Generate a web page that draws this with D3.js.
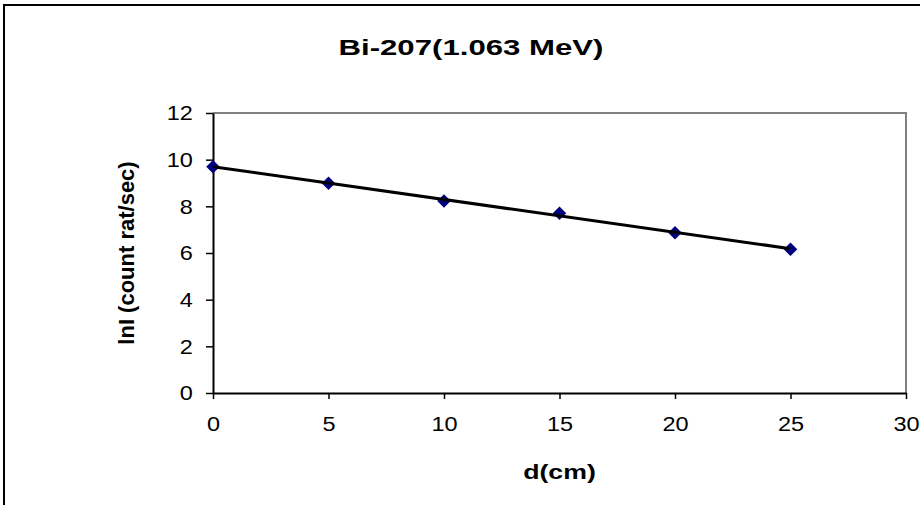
<!DOCTYPE html>
<html>
<head>
<meta charset="utf-8">
<script src="https://cdn.jsdelivr.net/npm/d3@7"></script>
<style>
  html, body { margin: 0; padding: 0; background: #fff; }
  svg { display: block; }
  text { font-family: "Liberation Sans", Arial, sans-serif; fill: #000; }
</style>
</head>
<body>
<svg id="chart" width="920" height="505"></svg>
<script>
// Attenuation measurement: ln of count rate against absorber thickness
const distances = [0, 5, 10, 15, 20, 25];            // d (cm)
const lnRates   = [9.70, 8.99, 8.23, 7.70, 6.87, 6.16]; // lnI (count rate/sec)
const xTicks = [0, 5, 10, 15, 20, 25, 30];
const yTicks = [0, 2, 4, 6, 8, 10, 12];
const titleText = "Bi-207(1.063 MeV)";
const xTitle = "d(cm)";
const yTitle = "lnI (count rat/sec)";

const svg = d3.select("#chart");
const plot = { left: 213, right: 906, top: 113, bottom: 393 };

const x = d3.scaleLinear().domain([0, 30]).range([plot.left, plot.right]);
const y = d3.scaleLinear().domain([0, 12]).range([plot.bottom, plot.top]);

// Chart area frame
svg.append("rect")
  .attr("x", 4).attr("y", 5).attr("width", 1000).attr("height", 1000)
  .attr("fill", "#fff").attr("stroke", "#000").attr("stroke-width", 2);

// Plot area frame: top and right edges in grey
svg.append("path")
  .attr("d", `M${plot.left},${plot.top}H${plot.right}V${plot.bottom}`)
  .attr("fill", "none").attr("stroke", "#808080").attr("stroke-width", 2);

// Axes
const xAxis = d3.axisBottom(x).tickValues(xTicks).tickSize(6).tickSizeOuter(0).tickPadding(17);
const yAxis = d3.axisLeft(y).tickValues(yTicks).tickSize(7).tickSizeOuter(0).tickPadding(11);

const gx = svg.append("g").attr("transform", `translate(0,${plot.bottom})`).call(xAxis);
const gy = svg.append("g").attr("transform", `translate(${plot.left},0)`).call(yAxis);

[gx, gy].forEach(g => {
  g.select(".domain").attr("stroke", "#000").attr("stroke-width", 2);
  g.selectAll(".tick line").attr("stroke", "#000").attr("stroke-width", 1.5);
  g.selectAll(".tick text")
    .style("font-family", '"Liberation Sans", Arial, sans-serif')
    .style("font-size", "21px").attr("fill", "#000")
    .attr("transform", "scale(1.12,1)");
});

// Data markers (diamonds)
const diamond = d3.symbol().type(d3.symbolSquare).size(92);
svg.append("g").selectAll("path")
  .data(distances.map((d, i) => ({ d, v: lnRates[i] })))
  .join("path")
  .attr("transform", p => `translate(${x(p.d)},${y(p.v)}) rotate(45)`)
  .attr("d", diamond)
  .attr("fill", "#000080");

// Linear trendline from least squares fit
const n = distances.length;
const mx = d3.mean(distances), my = d3.mean(lnRates);
let sxy = 0, sxx = 0;
for (let i = 0; i < n; i++) {
  sxy += (distances[i] - mx) * (lnRates[i] - my);
  sxx += (distances[i] - mx) ** 2;
}
const slope = sxy / sxx, intercept = my - slope * mx;
const x0 = d3.min(distances), x1 = d3.max(distances);
svg.append("line")
  .attr("x1", x(x0)).attr("y1", y(intercept + slope * x0))
  .attr("x2", x(x1)).attr("y2", y(intercept + slope * x1))
  .attr("stroke", "#000").attr("stroke-width", 3);

// Titles
svg.append("text")
  .attr("transform", "translate(471,55) scale(1.45,1)")
  .attr("text-anchor", "middle")
  .style("font-size", "21.5px").style("font-weight", "bold")
  .text(titleText);

svg.append("text")
  .attr("transform", `translate(${(plot.left + plot.right) / 2},479) scale(1.27,1)`)
  .attr("text-anchor", "middle")
  .style("font-size", "21px").style("font-weight", "bold")
  .text(xTitle);

svg.append("text")
  .attr("transform", `translate(134,${(plot.top + plot.bottom) / 2}) rotate(-90)`)
  .attr("text-anchor", "middle")
  .style("font-size", "22px").style("font-weight", "bold")
  .text(yTitle);
</script>
</body>
</html>
